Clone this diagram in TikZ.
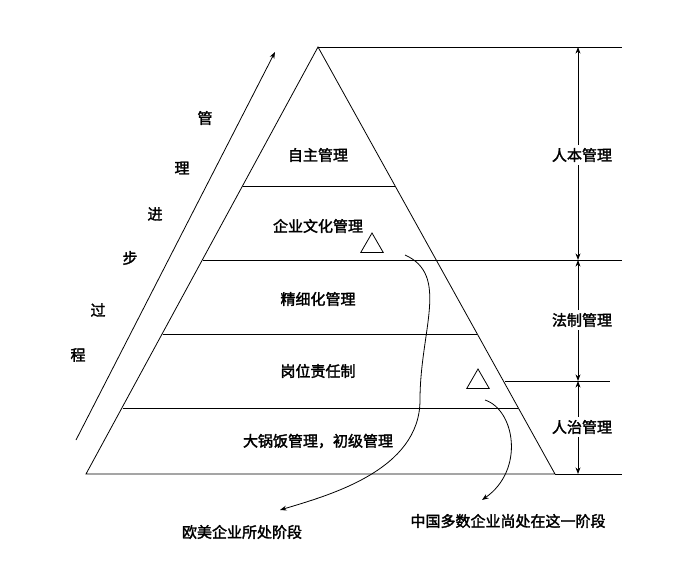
\documentclass[tikz,border=0pt]{standalone}
\usepackage{fontspec}
\newfontfamily\cjk{Noto Sans CJK SC}[FakeBold=2]
\usetikzlibrary{arrows.meta,shapes.geometric}
\begin{document}
\begin{tikzpicture}[x=1pt,y=-1pt,thick,
  lbl/.style={font=\cjk\fontsize{15}{17}\selectfont},
  tri/.style={draw,regular polygon,regular polygon sides=3,minimum size=26pt,inner sep=0pt,thick}]
\useasboundingbox (0,0) rectangle (678,562);

% pyramid
\coordinate (apex) at (318,47);
\coordinate (bl) at (86,474);
\coordinate (br) at (555,474);
\draw (bl) -- (apex) -- (br) -- cycle;
\foreach \y in {186,260,334,408}
  \draw ({318-(231/427)*(\y-47)},\y) -- ({318+(237/427)*(\y-47)},\y);

% level texts
\node[lbl] (l1) at (318,155) {自主管理};
\node[lbl] (l2) at (318,226) {企业文化管理};
\node[lbl] (l3) at (318,299) {精细化管理};
\node[lbl] (l4) at (318,371) {岗位责任制};
\node[lbl] (l5) at (318,441) {大锅饭管理，初级管理};

% right scale
\draw (apex) -- (622,47);
\draw (422,260) -- (622,260);
\draw (505,381) -- (610,381);
\draw (br) -- (622,474);
\coordinate (s0) at (578,47);
\coordinate (s1) at (578,260);
\coordinate (s2) at (578,381);
\coordinate (s3) at (578,474);
\draw[{Stealth}-{Stealth}] (s0) -- (s1);
\draw[{Stealth}-{Stealth}] (s1) -- (s2);
\draw[{Stealth}-{Stealth}] (s2) -- (s3);
\node[lbl,fill=white] (r1) at (582,155) {人本管理};
\node[lbl,fill=white] (r2) at (582,320) {法制管理};
\node[lbl,fill=white] (r3) at (582,427) {人治管理};

% progress arrow
\coordinate (p0) at (76,440);
\coordinate (p1) at (275,52);
\draw[-{Stealth}] (p0) -- (p1);
\node[lbl] (c1) at (205,118) {管};
\node[lbl] (c2) at (182,168) {理};
\node[lbl] (c3) at (155,214) {进};
\node[lbl] (c4) at (130,258) {步};
\node[lbl] (c5) at (98,310) {过};
\node[lbl] (c6) at (78,355) {程};

% markers and pointers
\node[tri] (t1) at (372,246) {};
\node[tri] (t2) at (478,382) {};
\node[lbl] (eu) at (242,532) {欧美企业所处阶段};
\node[lbl] (cn) at (508,521) {中国多数企业尚处在这一阶段};
\draw[-{Stealth}] (405,255) .. controls (450,275) and (420,330) .. (420,400)
  .. controls (420,470) and (330,495) .. (280,510);
\draw[-{Stealth}] (485,400) .. controls (515,410) and (525,470) .. (482,500);
\end{tikzpicture}
\end{document}
